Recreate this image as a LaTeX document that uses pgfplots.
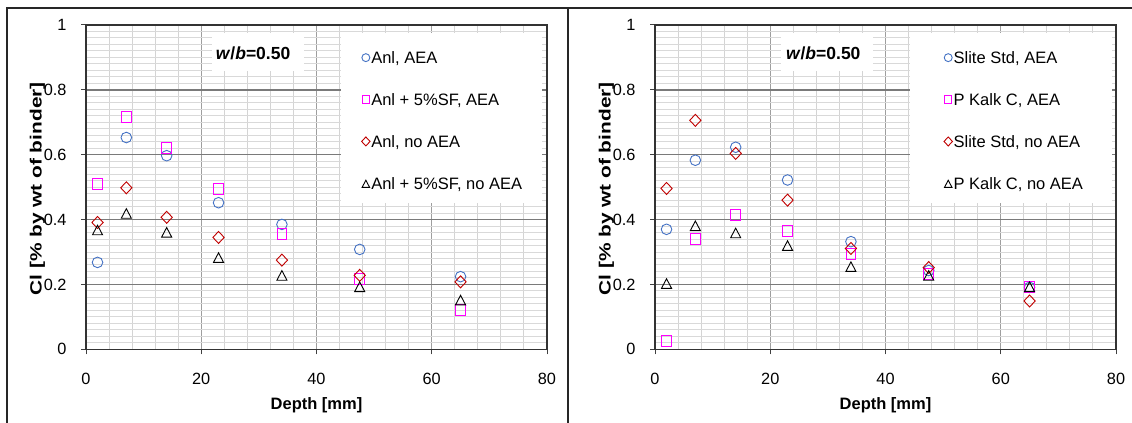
\documentclass[border=0pt]{standalone}
\usepackage{fontspec}
\setmainfont{Liberation Sans}
\newfontfamily\ylabfont[FakeStretch=1.28]{Liberation Sans}
\usepackage{pgfplots}
\pgfplotsset{compat=1.18}
\definecolor{cblue}{HTML}{4472C4}
\definecolor{cmag}{HTML}{FF00FF}
\definecolor{cred}{HTML}{C00000}

\pgfplotstableread{
d   a     b     c     e
2   0.268 0.511 0.391 0.368
7   0.653 0.715 0.498 0.419
14  0.597 0.622 0.407 0.361
23  0.452 0.493 0.345 0.283
34  0.385 0.355 0.275 0.228
47.5 0.308 0.218 0.228 0.193
65  0.224 0.121 0.208 0.152
}\lefttab
\pgfplotstableread{
d   a     b     c     e
2   0.370 0.026 0.496 0.203
7   0.583 0.339 0.706 0.381
14  0.623 0.413 0.604 0.359
23  0.522 0.366 0.460 0.320
34  0.332 0.294 0.311 0.255
47.5 0.243 0.232 0.252 0.228
65  0.191 0.193 0.149 0.193
}\righttab

\pgfplotsset{
  chart/.style={
    scale only axis, width=461bp, height=324.3bp,
    xmin=0, xmax=80, ymin=0, ymax=1,
    xtick={0,20,40,60,80}, xticklabels={0,20,40,60,80},
    ytick={0,0.2,0.4,0.6,0.8,1}, yticklabels={0,0.2,0.4,0.6,0.8,1},
    minor x tick num=4, minor y tick num=9,
    grid=both,
    major x grid style={color=black!38, line width=1bp},
    major y grid style={color=black!52, line width=1.3bp},
    minor x grid style={color=black!17, line width=1bp},
    minor y grid style={color=black!15, line width=1bp},
    xtick pos=left, ytick pos=left,
    tick align=outside, major tick length=5bp, minor tick length=0pt,
    tick style={black!75, line width=1bp},
    axis line style={black!80, line width=1.2bp},
    ticklabel style={font=\fontsize{16.3bp}{19bp}\selectfont},
    xticklabel style={anchor=north, inner sep=0pt, yshift=-18.7bp},
    yticklabel style={anchor=east, inner sep=0pt, xshift=-14.3bp},
    xlabel={\textbf{Depth [mm]}},
    ylabel={\ylabfont\bfseries Cl [\% by wt of binder]},
    every axis x label/.style={at={(axis description cs:0.5,0)}, anchor=base, yshift=-60bp, font=\fontsize{16.5bp}{19bp}\selectfont},
    every axis y label/.style={at={(axis description cs:0,0.5)}, xshift=-48.5bp, yshift=-1.8bp, rotate=90, anchor=center, font=\fontsize{16.3bp}{19bp}\selectfont},
    legend cell align=left,
    legend style={draw=none, fill=none, anchor=west, row sep=29.9bp,
      font=\fontsize{16.5bp}{19bp}\selectfont,
      nodes={inner sep=0pt, text height=12bp, text depth=0bp},
      /tikz/every odd column/.append style={column sep=1.2bp}},
    legend image code/.code={\path[draw=none, fill=none] (-4bp,-4bp) rectangle (4bp,4bp);
      \draw[##1, every mark/.append style={scale=0.75}] plot coordinates {(0bp,0bp)};},
  },
  sA/.style={only marks, mark=o, color=cblue, mark size=5.3bp, mark options={line width=0.9bp}},
  sB/.style={only marks, mark=square, color=cmag, mark size=4.8bp, mark options={line width=0.9bp, yscale=1.15}},
  sC/.style={only marks, mark=diamond, color=cred, mark size=6bp, mark options={line width=0.9bp, xscale=1.25}},
  sD/.style={only marks, mark=triangle, color=black, mark size=5.8bp, mark options={line width=0.9bp, yscale=1.1, yshift=-1.5bp}},
}

\begin{document}
\begin{tikzpicture}[x=1bp,y=1bp]
\useasboundingbox (0,0) rectangle (1132,422);
\draw[line width=2bp, black!85] (7.3,-2) -- (7.3,413.7) -- (1134,413.7);
\draw[line width=2bp, black!85] (568.3,-2) -- (568.3,413.7);

\begin{axis}[chart, at={(86bp,72.7bp)}, anchor=south west,
  legend style={at={(axis description cs:0.591,0.7055)}}]
\fill[white] (axis cs:44.2,0.974) rectangle (axis cs:79.1,0.45);
\fill[white] (axis cs:21.9,0.974) rectangle (axis cs:37.8,0.858);
\node[anchor=base, font=\fontsize{17.5bp}{20bp}\selectfont\bfseries] at (axis cs:29.0,0.893) {\textit{w}/\textit{b}=0.50};
\addplot[sA] table[x=d, y=a] {\lefttab};
\addplot[sB] table[x=d, y=b] {\lefttab};
\addplot[sC] table[x=d, y=c] {\lefttab};
\addplot[sD] table[x=d, y=e] {\lefttab};
\legend{Anl{,} AEA, Anl + 5\%SF{,} AEA, Anl{,} no AEA, Anl + 5\%SF{,} no AEA}
\end{axis}

\begin{axis}[chart, at={(655bp,72.7bp)}, anchor=south west,
  legend style={at={(axis description cs:0.62,0.7055)}}]
\fill[white] (axis cs:44.3,0.974) rectangle (axis cs:79.3,0.45);
\fill[white] (axis cs:21.9,0.974) rectangle (axis cs:37.9,0.858);
\node[anchor=base, font=\fontsize{17.5bp}{20bp}\selectfont\bfseries] at (axis cs:29.2,0.893) {\textit{w}/\textit{b}=0.50};
\addplot[sA] table[x=d, y=a] {\righttab};
\addplot[sB] table[x=d, y=b] {\righttab};
\addplot[sC] table[x=d, y=c] {\righttab};
\addplot[sD] table[x=d, y=e] {\righttab};
\legend{Slite Std{,} AEA, P Kalk C{,} AEA, Slite Std{,} no AEA, P Kalk C{,} no AEA}
\end{axis}
\end{tikzpicture}
\end{document}
